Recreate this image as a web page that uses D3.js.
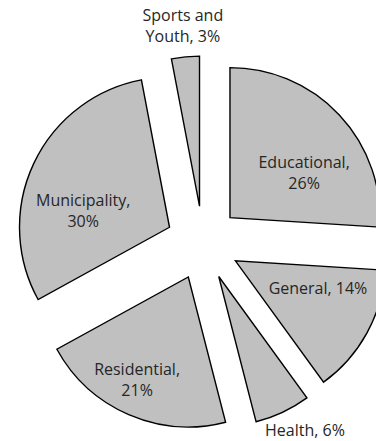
<!DOCTYPE html>
<html>
<head>
<meta charset="utf-8">
<script src="https://cdn.jsdelivr.net/npm/d3@7"></script>
<style>
  html, body { margin: 0; padding: 0; background: #fff; }
  svg { display: block; }
</style>
</head>
<body>
<svg id="chart" width="376" height="441"></svg>
<script>
// Data
const categories = ["Educational", "General", "Health", "Residential", "Municipality", "Sports and Youth"];
const values = [26, 14, 6, 21, 30, 3];
const labelLines = [
  ["Educational,", "26%"],
  ["General, 14%"],
  ["Health, 6%"],
  ["Residential,", "21%"],
  ["Municipality,", "30%"],
  ["Sports and", "Youth, 3%"]
];
// Label layout (polar, relative to the pie centre): angle in degrees clockwise from top, radius in px
const labelAngle = [55.3, 111.4, 151.4, 205.7, 285, 354.7];
const labelRadius = [123, 123.5, 213, 152, 124, 218];

const W = 376, H = 441;
const cx = 203, cy = 243;
const R = 150;
const explode = 37;

const svg = d3.select("#chart");
const g = svg.append("g").attr("transform", `translate(${cx},${cy})`);

const pie = d3.pie().sort(null).value(d => d.value).startAngle(0).endAngle(2 * Math.PI);
const data = categories.map((c, i) => ({ name: c, value: values[i], lines: labelLines[i], la: labelAngle[i], lr: labelRadius[i] }));
const arcs = pie(data);
const arc = d3.arc().innerRadius(0).outerRadius(R);

g.selectAll("path.slice")
  .data(arcs)
  .join("path")
  .attr("class", "slice")
  .attr("d", arc)
  .attr("transform", d => {
    const mid = (d.startAngle + d.endAngle) / 2;
    return `translate(${explode * Math.sin(mid)},${-explode * Math.cos(mid)})`;
  })
  .attr("fill", "#c0c0c0")
  .attr("stroke", "#000")
  .attr("stroke-width", 1.4)
  .attr("stroke-linejoin", "miter");

const lineH = 21.5;
g.selectAll("text.lbl")
  .data(arcs)
  .join("text")
  .attr("class", "lbl")
  .attr("font-family", "'Open Sans', sans-serif")
  .attr("font-size", "16px")
  .attr("fill", "#262626")
  .attr("text-anchor", "middle")
  .each(function(d) {
    const a = d.data.la * Math.PI / 180;
    const x = d.data.lr * Math.sin(a);
    const y = -d.data.lr * Math.cos(a);
    const n = d.data.lines.length;
    const t = d3.select(this);
    d.data.lines.forEach((ln, i) => {
      t.append("tspan")
        .attr("x", x)
        .attr("y", y + (i - (n - 1) / 2) * lineH)
        .attr("dy", "0.35em")
        .text(ln);
    });
  });
</script>
</body>
</html>
